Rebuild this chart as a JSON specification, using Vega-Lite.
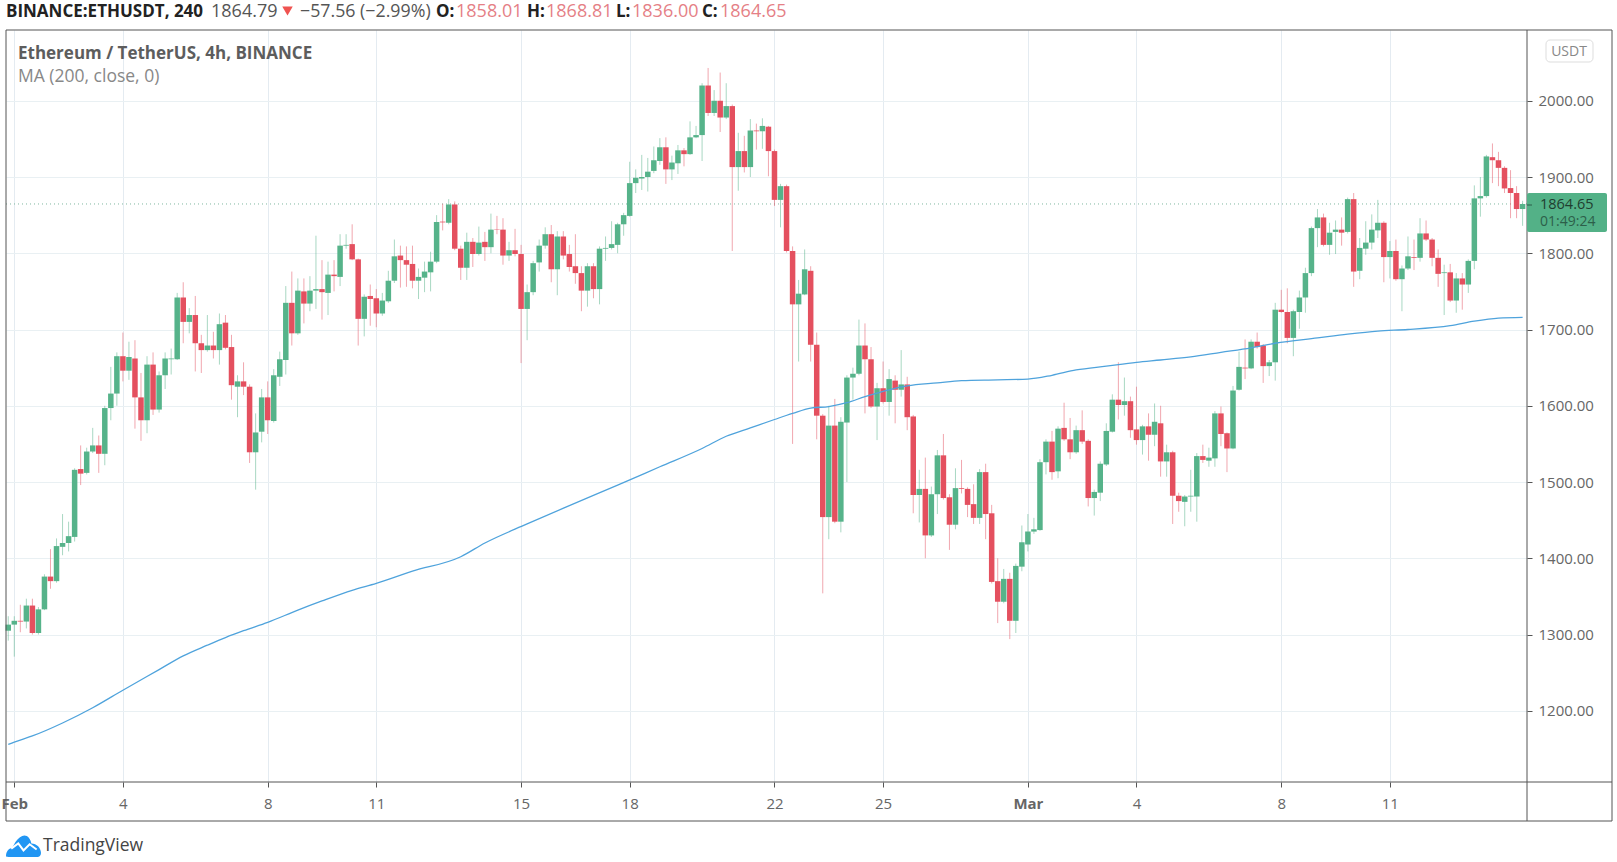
{
"$schema":"https://vega.github.io/schema/vega-lite/v6.json",
"width":1521,"height":752,
"autosize":"none",
"padding":{"left":6,"top":30,"right":90,"bottom":80},
"background":"white",
"config":{"view":{"stroke":null},"font":"Open Sans","text":{"font":"Open Sans"}},
"datasets":{
"candles":[
{"t":"2021-01-31T20:00Z","o":1305,"h":1324,"l":1292,"c":1313},
{"t":"2021-02-01T00:00Z","o":1313,"h":1324,"l":1271,"c":1318},
{"t":"2021-02-01T04:00Z","o":1318,"h":1339,"l":1303,"c":1317},
{"t":"2021-02-01T08:00Z","o":1317,"h":1347,"l":1308,"c":1338},
{"t":"2021-02-01T12:00Z","o":1338,"h":1347,"l":1300,"c":1302},
{"t":"2021-02-01T16:00Z","o":1302,"h":1336,"l":1300,"c":1333},
{"t":"2021-02-01T20:00Z","o":1333,"h":1379,"l":1332,"c":1376},
{"t":"2021-02-02T00:00Z","o":1376,"h":1412,"l":1360,"c":1370},
{"t":"2021-02-02T04:00Z","o":1370,"h":1426,"l":1368,"c":1416},
{"t":"2021-02-02T08:00Z","o":1415,"h":1458,"l":1404,"c":1420},
{"t":"2021-02-02T12:00Z","o":1420,"h":1448,"l":1409,"c":1429},
{"t":"2021-02-02T16:00Z","o":1428,"h":1518,"l":1422,"c":1516},
{"t":"2021-02-02T20:00Z","o":1517,"h":1548,"l":1496,"c":1511},
{"t":"2021-02-03T00:00Z","o":1512,"h":1545,"l":1510,"c":1540},
{"t":"2021-02-03T04:00Z","o":1540,"h":1571,"l":1538,"c":1548},
{"t":"2021-02-03T08:00Z","o":1548,"h":1561,"l":1512,"c":1537},
{"t":"2021-02-03T12:00Z","o":1537,"h":1600,"l":1522,"c":1597},
{"t":"2021-02-03T16:00Z","o":1597,"h":1651,"l":1581,"c":1616},
{"t":"2021-02-03T20:00Z","o":1616,"h":1670,"l":1600,"c":1665},
{"t":"2021-02-04T00:00Z","o":1665,"h":1696,"l":1632,"c":1646},
{"t":"2021-02-04T04:00Z","o":1646,"h":1684,"l":1634,"c":1664},
{"t":"2021-02-04T08:00Z","o":1662,"h":1686,"l":1570,"c":1611},
{"t":"2021-02-04T12:00Z","o":1611,"h":1643,"l":1554,"c":1581},
{"t":"2021-02-04T16:00Z","o":1581,"h":1665,"l":1564,"c":1654},
{"t":"2021-02-04T20:00Z","o":1654,"h":1670,"l":1588,"c":1595},
{"t":"2021-02-05T00:00Z","o":1595,"h":1645,"l":1591,"c":1640},
{"t":"2021-02-05T04:00Z","o":1640,"h":1670,"l":1622,"c":1662},
{"t":"2021-02-05T08:00Z","o":1661,"h":1675,"l":1641,"c":1662},
{"t":"2021-02-05T12:00Z","o":1661,"h":1748,"l":1660,"c":1742},
{"t":"2021-02-05T16:00Z","o":1742,"h":1762,"l":1682,"c":1710},
{"t":"2021-02-05T20:00Z","o":1710,"h":1728,"l":1695,"c":1719},
{"t":"2021-02-06T00:00Z","o":1719,"h":1744,"l":1645,"c":1682},
{"t":"2021-02-06T04:00Z","o":1682,"h":1693,"l":1643,"c":1673},
{"t":"2021-02-06T08:00Z","o":1673,"h":1719,"l":1671,"c":1679},
{"t":"2021-02-06T12:00Z","o":1679,"h":1697,"l":1662,"c":1673},
{"t":"2021-02-06T16:00Z","o":1673,"h":1721,"l":1654,"c":1707},
{"t":"2021-02-06T20:00Z","o":1709,"h":1719,"l":1674,"c":1676},
{"t":"2021-02-07T00:00Z","o":1677,"h":1693,"l":1608,"c":1627},
{"t":"2021-02-07T04:00Z","o":1625,"h":1640,"l":1585,"c":1632},
{"t":"2021-02-07T08:00Z","o":1632,"h":1657,"l":1614,"c":1625},
{"t":"2021-02-07T12:00Z","o":1625,"h":1628,"l":1525,"c":1539},
{"t":"2021-02-07T16:00Z","o":1539,"h":1590,"l":1490,"c":1565},
{"t":"2021-02-07T20:00Z","o":1566,"h":1622,"l":1552,"c":1611},
{"t":"2021-02-08T00:00Z","o":1611,"h":1632,"l":1563,"c":1581},
{"t":"2021-02-08T04:00Z","o":1580,"h":1648,"l":1578,"c":1640},
{"t":"2021-02-08T08:00Z","o":1638,"h":1671,"l":1626,"c":1661},
{"t":"2021-02-08T12:00Z","o":1660,"h":1757,"l":1641,"c":1735},
{"t":"2021-02-08T16:00Z","o":1735,"h":1776,"l":1679,"c":1695},
{"t":"2021-02-08T20:00Z","o":1695,"h":1767,"l":1693,"c":1751},
{"t":"2021-02-09T00:00Z","o":1750,"h":1767,"l":1708,"c":1734},
{"t":"2021-02-09T04:00Z","o":1734,"h":1770,"l":1724,"c":1751},
{"t":"2021-02-09T08:00Z","o":1751,"h":1823,"l":1727,"c":1753},
{"t":"2021-02-09T12:00Z","o":1753,"h":1791,"l":1713,"c":1749},
{"t":"2021-02-09T16:00Z","o":1748,"h":1789,"l":1719,"c":1772},
{"t":"2021-02-09T20:00Z","o":1772,"h":1791,"l":1750,"c":1770},
{"t":"2021-02-10T00:00Z","o":1769,"h":1825,"l":1757,"c":1810},
{"t":"2021-02-10T04:00Z","o":1810,"h":1825,"l":1806,"c":1811},
{"t":"2021-02-10T08:00Z","o":1812,"h":1838,"l":1791,"c":1792},
{"t":"2021-02-10T12:00Z","o":1792,"h":1793,"l":1679,"c":1714},
{"t":"2021-02-10T16:00Z","o":1714,"h":1746,"l":1691,"c":1743},
{"t":"2021-02-10T20:00Z","o":1744,"h":1759,"l":1705,"c":1740},
{"t":"2021-02-11T00:00Z","o":1741,"h":1753,"l":1703,"c":1721},
{"t":"2021-02-11T04:00Z","o":1721,"h":1748,"l":1718,"c":1738},
{"t":"2021-02-11T08:00Z","o":1737,"h":1777,"l":1735,"c":1764},
{"t":"2021-02-11T12:00Z","o":1764,"h":1818,"l":1761,"c":1796},
{"t":"2021-02-11T16:00Z","o":1797,"h":1810,"l":1755,"c":1791},
{"t":"2021-02-11T20:00Z","o":1791,"h":1809,"l":1756,"c":1785},
{"t":"2021-02-12T00:00Z","o":1786,"h":1810,"l":1754,"c":1764},
{"t":"2021-02-12T04:00Z","o":1764,"h":1780,"l":1740,"c":1769},
{"t":"2021-02-12T08:00Z","o":1768,"h":1789,"l":1749,"c":1776},
{"t":"2021-02-12T12:00Z","o":1775,"h":1802,"l":1750,"c":1789},
{"t":"2021-02-12T16:00Z","o":1789,"h":1850,"l":1787,"c":1841},
{"t":"2021-02-12T20:00Z","o":1841.5,"h":1865,"l":1830,"c":1840.5},
{"t":"2021-02-13T00:00Z","o":1840,"h":1871,"l":1838,"c":1864},
{"t":"2021-02-13T04:00Z","o":1864,"h":1868,"l":1804,"c":1806},
{"t":"2021-02-13T08:00Z","o":1806,"h":1810,"l":1765,"c":1781},
{"t":"2021-02-13T12:00Z","o":1781,"h":1827,"l":1765,"c":1815},
{"t":"2021-02-13T16:00Z","o":1815,"h":1820,"l":1782,"c":1799},
{"t":"2021-02-13T20:00Z","o":1799,"h":1835,"l":1797,"c":1814},
{"t":"2021-02-14T00:00Z","o":1815,"h":1828,"l":1790,"c":1808},
{"t":"2021-02-14T04:00Z","o":1808,"h":1852,"l":1800,"c":1831},
{"t":"2021-02-14T08:00Z","o":1831.5,"h":1849,"l":1825,"c":1831},
{"t":"2021-02-14T12:00Z","o":1831,"h":1846,"l":1785,"c":1797},
{"t":"2021-02-14T16:00Z","o":1797,"h":1815,"l":1790,"c":1804},
{"t":"2021-02-14T20:00Z","o":1804,"h":1832,"l":1796,"c":1799},
{"t":"2021-02-15T00:00Z","o":1799,"h":1811,"l":1656,"c":1727},
{"t":"2021-02-15T04:00Z","o":1727,"h":1759,"l":1686,"c":1749},
{"t":"2021-02-15T08:00Z","o":1749,"h":1790,"l":1745,"c":1787},
{"t":"2021-02-15T12:00Z","o":1788,"h":1818,"l":1776,"c":1810},
{"t":"2021-02-15T16:00Z","o":1810,"h":1834,"l":1806,"c":1825},
{"t":"2021-02-15T20:00Z","o":1825,"h":1837,"l":1762,"c":1779},
{"t":"2021-02-16T00:00Z","o":1779,"h":1829,"l":1745,"c":1822},
{"t":"2021-02-16T04:00Z","o":1822,"h":1829,"l":1792,"c":1797},
{"t":"2021-02-16T08:00Z","o":1799,"h":1811,"l":1776,"c":1782},
{"t":"2021-02-16T12:00Z","o":1783,"h":1825,"l":1760,"c":1774},
{"t":"2021-02-16T16:00Z","o":1774,"h":1783,"l":1724,"c":1751},
{"t":"2021-02-16T20:00Z","o":1751,"h":1787,"l":1730,"c":1783},
{"t":"2021-02-17T00:00Z","o":1783,"h":1787,"l":1741,"c":1753},
{"t":"2021-02-17T04:00Z","o":1753,"h":1809,"l":1733,"c":1806},
{"t":"2021-02-17T08:00Z","o":1806,"h":1822,"l":1790,"c":1807},
{"t":"2021-02-17T12:00Z","o":1807,"h":1842,"l":1805,"c":1812},
{"t":"2021-02-17T16:00Z","o":1811,"h":1840,"l":1800,"c":1838},
{"t":"2021-02-17T20:00Z","o":1838,"h":1853,"l":1823,"c":1850},
{"t":"2021-02-18T00:00Z","o":1849,"h":1920,"l":1848,"c":1892},
{"t":"2021-02-18T04:00Z","o":1892,"h":1910,"l":1879,"c":1899},
{"t":"2021-02-18T08:00Z","o":1898,"h":1929,"l":1883,"c":1900},
{"t":"2021-02-18T12:00Z","o":1900,"h":1925,"l":1881,"c":1907},
{"t":"2021-02-18T16:00Z","o":1908,"h":1940,"l":1905,"c":1922},
{"t":"2021-02-18T20:00Z","o":1921,"h":1951,"l":1916,"c":1939},
{"t":"2021-02-19T00:00Z","o":1939,"h":1952,"l":1891,"c":1910},
{"t":"2021-02-19T04:00Z","o":1910,"h":1928,"l":1896,"c":1919},
{"t":"2021-02-19T08:00Z","o":1918,"h":1942,"l":1904,"c":1935},
{"t":"2021-02-19T12:00Z","o":1935,"h":1938,"l":1914,"c":1930},
{"t":"2021-02-19T16:00Z","o":1930,"h":1973,"l":1929,"c":1952},
{"t":"2021-02-19T20:00Z","o":1952,"h":1967,"l":1951,"c":1955},
{"t":"2021-02-20T00:00Z","o":1955,"h":2023,"l":1921,"c":2020},
{"t":"2021-02-20T04:00Z","o":2020,"h":2043,"l":1980,"c":1984},
{"t":"2021-02-20T08:00Z","o":1984,"h":2014,"l":1980,"c":2000},
{"t":"2021-02-20T12:00Z","o":2000,"h":2037,"l":1959,"c":1978},
{"t":"2021-02-20T16:00Z","o":1978,"h":2023,"l":1976,"c":1993},
{"t":"2021-02-20T20:00Z","o":1993,"h":1995,"l":1803,"c":1913},
{"t":"2021-02-21T00:00Z","o":1913,"h":1958,"l":1882,"c":1934},
{"t":"2021-02-21T04:00Z","o":1934,"h":1954,"l":1906,"c":1913},
{"t":"2021-02-21T08:00Z","o":1913,"h":1976,"l":1900,"c":1961},
{"t":"2021-02-21T12:00Z","o":1961,"h":1970,"l":1936,"c":1960},
{"t":"2021-02-21T16:00Z","o":1960,"h":1977,"l":1937,"c":1967},
{"t":"2021-02-21T20:00Z","o":1966,"h":1967,"l":1901,"c":1934},
{"t":"2021-02-22T00:00Z","o":1934,"h":1936,"l":1862,"c":1870},
{"t":"2021-02-22T04:00Z","o":1870,"h":1891,"l":1834,"c":1888},
{"t":"2021-02-22T08:00Z","o":1888,"h":1890,"l":1801,"c":1803},
{"t":"2021-02-22T12:00Z","o":1803,"h":1809,"l":1550,"c":1733},
{"t":"2021-02-22T16:00Z","o":1733,"h":1765,"l":1658,"c":1747},
{"t":"2021-02-22T20:00Z","o":1746,"h":1805,"l":1745,"c":1779},
{"t":"2021-02-23T00:00Z","o":1777,"h":1783,"l":1658,"c":1680},
{"t":"2021-02-23T04:00Z","o":1680,"h":1696,"l":1556,"c":1587},
{"t":"2021-02-23T08:00Z","o":1587,"h":1589,"l":1354,"c":1454},
{"t":"2021-02-23T12:00Z","o":1454,"h":1600,"l":1425,"c":1574},
{"t":"2021-02-23T16:00Z","o":1574,"h":1609,"l":1446,"c":1448},
{"t":"2021-02-23T20:00Z","o":1448,"h":1585,"l":1434,"c":1579},
{"t":"2021-02-24T00:00Z","o":1578,"h":1640,"l":1500,"c":1637},
{"t":"2021-02-24T04:00Z","o":1637,"h":1650,"l":1608,"c":1642},
{"t":"2021-02-24T08:00Z","o":1642,"h":1713,"l":1640,"c":1679},
{"t":"2021-02-24T12:00Z","o":1679,"h":1708,"l":1590,"c":1661},
{"t":"2021-02-24T16:00Z","o":1661,"h":1677,"l":1597,"c":1599},
{"t":"2021-02-24T20:00Z","o":1599,"h":1630,"l":1555,"c":1623},
{"t":"2021-02-25T00:00Z","o":1623,"h":1658,"l":1603,"c":1605},
{"t":"2021-02-25T04:00Z","o":1605,"h":1648,"l":1587,"c":1635},
{"t":"2021-02-25T08:00Z","o":1633,"h":1640,"l":1577,"c":1621},
{"t":"2021-02-25T12:00Z","o":1621,"h":1673,"l":1612,"c":1628},
{"t":"2021-02-25T16:00Z","o":1628,"h":1638,"l":1568,"c":1585},
{"t":"2021-02-25T20:00Z","o":1586,"h":1588,"l":1459,"c":1483},
{"t":"2021-02-26T00:00Z","o":1483,"h":1516,"l":1447,"c":1491},
{"t":"2021-02-26T04:00Z","o":1491,"h":1532,"l":1400,"c":1430},
{"t":"2021-02-26T08:00Z","o":1430,"h":1494,"l":1428,"c":1484},
{"t":"2021-02-26T12:00Z","o":1484,"h":1542,"l":1458,"c":1535},
{"t":"2021-02-26T16:00Z","o":1535,"h":1563,"l":1477,"c":1479},
{"t":"2021-02-26T20:00Z","o":1480,"h":1484,"l":1411,"c":1444},
{"t":"2021-02-27T00:00Z","o":1444,"h":1518,"l":1438,"c":1492},
{"t":"2021-02-27T04:00Z","o":1492,"h":1529,"l":1485,"c":1491},
{"t":"2021-02-27T08:00Z","o":1491,"h":1493,"l":1454,"c":1470},
{"t":"2021-02-27T12:00Z","o":1471,"h":1497,"l":1445,"c":1453},
{"t":"2021-02-27T16:00Z","o":1453,"h":1517,"l":1445,"c":1513},
{"t":"2021-02-27T20:00Z","o":1513,"h":1524,"l":1425,"c":1458},
{"t":"2021-02-28T00:00Z","o":1459,"h":1470,"l":1367,"c":1369},
{"t":"2021-02-28T04:00Z","o":1370,"h":1400,"l":1315,"c":1343},
{"t":"2021-02-28T08:00Z","o":1343,"h":1386,"l":1341,"c":1373},
{"t":"2021-02-28T12:00Z","o":1373,"h":1381,"l":1294,"c":1318},
{"t":"2021-02-28T16:00Z","o":1318,"h":1393,"l":1302,"c":1390},
{"t":"2021-02-28T20:00Z","o":1389,"h":1443,"l":1383,"c":1421},
{"t":"2021-03-01T00:00Z","o":1418,"h":1458,"l":1409,"c":1435},
{"t":"2021-03-01T04:00Z","o":1435,"h":1453,"l":1432,"c":1438},
{"t":"2021-03-01T08:00Z","o":1437,"h":1530,"l":1436,"c":1526},
{"t":"2021-03-01T12:00Z","o":1526,"h":1556,"l":1510,"c":1553},
{"t":"2021-03-01T16:00Z","o":1553,"h":1567,"l":1503,"c":1513},
{"t":"2021-03-01T20:00Z","o":1514,"h":1573,"l":1505,"c":1570},
{"t":"2021-03-02T00:00Z","o":1571,"h":1604,"l":1554,"c":1556},
{"t":"2021-03-02T04:00Z","o":1556,"h":1584,"l":1530,"c":1539},
{"t":"2021-03-02T08:00Z","o":1539,"h":1574,"l":1537,"c":1568},
{"t":"2021-03-02T12:00Z","o":1568,"h":1594,"l":1550,"c":1553},
{"t":"2021-03-02T16:00Z","o":1554,"h":1556,"l":1468,"c":1479},
{"t":"2021-03-02T20:00Z","o":1479,"h":1490,"l":1456,"c":1487},
{"t":"2021-03-03T00:00Z","o":1486,"h":1527,"l":1475,"c":1524},
{"t":"2021-03-03T04:00Z","o":1523,"h":1577,"l":1521,"c":1567},
{"t":"2021-03-03T08:00Z","o":1566,"h":1615,"l":1565,"c":1608},
{"t":"2021-03-03T12:00Z","o":1608,"h":1657,"l":1582,"c":1601},
{"t":"2021-03-03T16:00Z","o":1601,"h":1637,"l":1587,"c":1606},
{"t":"2021-03-03T20:00Z","o":1606,"h":1612,"l":1558,"c":1568},
{"t":"2021-03-04T00:00Z","o":1569,"h":1625,"l":1549,"c":1555},
{"t":"2021-03-04T04:00Z","o":1555,"h":1575,"l":1536,"c":1573},
{"t":"2021-03-04T08:00Z","o":1573,"h":1590,"l":1528,"c":1562},
{"t":"2021-03-04T12:00Z","o":1562,"h":1603,"l":1547,"c":1579},
{"t":"2021-03-04T16:00Z","o":1577,"h":1600,"l":1507,"c":1527},
{"t":"2021-03-04T20:00Z","o":1527,"h":1549,"l":1507,"c":1539},
{"t":"2021-03-05T00:00Z","o":1539,"h":1541,"l":1445,"c":1482},
{"t":"2021-03-05T04:00Z","o":1482,"h":1486,"l":1461,"c":1475},
{"t":"2021-03-05T08:00Z","o":1474,"h":1483,"l":1442,"c":1481},
{"t":"2021-03-05T12:00Z","o":1481,"h":1516,"l":1461,"c":1482},
{"t":"2021-03-05T16:00Z","o":1481,"h":1538,"l":1448,"c":1534},
{"t":"2021-03-05T20:00Z","o":1534,"h":1549,"l":1525,"c":1529},
{"t":"2021-03-06T00:00Z","o":1528,"h":1545,"l":1520,"c":1532},
{"t":"2021-03-06T04:00Z","o":1531,"h":1593,"l":1520,"c":1590},
{"t":"2021-03-06T08:00Z","o":1590,"h":1599,"l":1547,"c":1563},
{"t":"2021-03-06T12:00Z","o":1564,"h":1565,"l":1513,"c":1544},
{"t":"2021-03-06T16:00Z","o":1544,"h":1626,"l":1543,"c":1620},
{"t":"2021-03-06T20:00Z","o":1621,"h":1671,"l":1620,"c":1651},
{"t":"2021-03-07T00:00Z","o":1650,"h":1687,"l":1635,"c":1649},
{"t":"2021-03-07T04:00Z","o":1649,"h":1687,"l":1648,"c":1684},
{"t":"2021-03-07T08:00Z","o":1684,"h":1696,"l":1675,"c":1677},
{"t":"2021-03-07T12:00Z","o":1679,"h":1681,"l":1630,"c":1652},
{"t":"2021-03-07T16:00Z","o":1652,"h":1660,"l":1639,"c":1657},
{"t":"2021-03-07T20:00Z","o":1657,"h":1735,"l":1633,"c":1726},
{"t":"2021-03-08T00:00Z","o":1726,"h":1752,"l":1722,"c":1723},
{"t":"2021-03-08T04:00Z","o":1723,"h":1754,"l":1682,"c":1689},
{"t":"2021-03-08T08:00Z","o":1689,"h":1726,"l":1665,"c":1724},
{"t":"2021-03-08T12:00Z","o":1723,"h":1751,"l":1701,"c":1742},
{"t":"2021-03-08T16:00Z","o":1742,"h":1781,"l":1722,"c":1774},
{"t":"2021-03-08T20:00Z","o":1774,"h":1835,"l":1770,"c":1833},
{"t":"2021-03-09T00:00Z","o":1833,"h":1858,"l":1808,"c":1847},
{"t":"2021-03-09T04:00Z","o":1847,"h":1852,"l":1809,"c":1811},
{"t":"2021-03-09T08:00Z","o":1811,"h":1840,"l":1798,"c":1827},
{"t":"2021-03-09T12:00Z","o":1828,"h":1843,"l":1799,"c":1831},
{"t":"2021-03-09T16:00Z","o":1831,"h":1847,"l":1810,"c":1827},
{"t":"2021-03-09T20:00Z","o":1828,"h":1873,"l":1826,"c":1871},
{"t":"2021-03-10T00:00Z","o":1871,"h":1879,"l":1756,"c":1776},
{"t":"2021-03-10T04:00Z","o":1777,"h":1820,"l":1766,"c":1807},
{"t":"2021-03-10T08:00Z","o":1806,"h":1842,"l":1798,"c":1814},
{"t":"2021-03-10T12:00Z","o":1814,"h":1851,"l":1805,"c":1831},
{"t":"2021-03-10T16:00Z","o":1830,"h":1870,"l":1820,"c":1840},
{"t":"2021-03-10T20:00Z","o":1840,"h":1842,"l":1762,"c":1795},
{"t":"2021-03-11T00:00Z","o":1795,"h":1816,"l":1767,"c":1803},
{"t":"2021-03-11T04:00Z","o":1803,"h":1818,"l":1764,"c":1766},
{"t":"2021-03-11T08:00Z","o":1766,"h":1784,"l":1724,"c":1780},
{"t":"2021-03-11T12:00Z","o":1780,"h":1822,"l":1778,"c":1796},
{"t":"2021-03-11T16:00Z","o":1795,"h":1818,"l":1778,"c":1794},
{"t":"2021-03-11T20:00Z","o":1794,"h":1846,"l":1789,"c":1826},
{"t":"2021-03-12T00:00Z","o":1826,"h":1843,"l":1816,"c":1818},
{"t":"2021-03-12T04:00Z","o":1818,"h":1820,"l":1783,"c":1794},
{"t":"2021-03-12T08:00Z","o":1794,"h":1805,"l":1756,"c":1773},
{"t":"2021-03-12T12:00Z","o":1774,"h":1785,"l":1719,"c":1775},
{"t":"2021-03-12T16:00Z","o":1775,"h":1786,"l":1736,"c":1738},
{"t":"2021-03-12T20:00Z","o":1738,"h":1774,"l":1722,"c":1767},
{"t":"2021-03-13T00:00Z","o":1767,"h":1774,"l":1726,"c":1759},
{"t":"2021-03-13T04:00Z","o":1759,"h":1792,"l":1748,"c":1790},
{"t":"2021-03-13T08:00Z","o":1790,"h":1889,"l":1779,"c":1872},
{"t":"2021-03-13T12:00Z","o":1872,"h":1900,"l":1848,"c":1875},
{"t":"2021-03-13T16:00Z","o":1875,"h":1929,"l":1873,"c":1927},
{"t":"2021-03-13T20:00Z","o":1926,"h":1944,"l":1892,"c":1922},
{"t":"2021-03-14T00:00Z","o":1922,"h":1933,"l":1888,"c":1912},
{"t":"2021-03-14T04:00Z","o":1912,"h":1914,"l":1879,"c":1885},
{"t":"2021-03-14T08:00Z","o":1885.5,"h":1909,"l":1846,"c":1879},
{"t":"2021-03-14T12:00Z","o":1879,"h":1888,"l":1846,"c":1858},
{"t":"2021-03-14T16:00Z","o":1858.01,"h":1868.81,"l":1836,"c":1864.65}
],
"ma":[
{"t":"2021-01-31T20:00Z","v":1156},{"t":"2021-02-01T00:00Z","v":1159},{"t":"2021-02-01T12:00Z","v":1167},
{"t":"2021-02-02T08:00Z","v":1184},{"t":"2021-02-03T04:00Z","v":1204},{"t":"2021-02-04T00:00Z","v":1227},
{"t":"2021-02-05T00:00Z","v":1254},{"t":"2021-02-05T16:00Z","v":1272},{"t":"2021-02-06T08:00Z","v":1286},
{"t":"2021-02-06T20:00Z","v":1296},{"t":"2021-02-07T08:00Z","v":1305},{"t":"2021-02-08T00:00Z","v":1316},
{"t":"2021-02-08T20:00Z","v":1332},{"t":"2021-02-09T12:00Z","v":1344},{"t":"2021-02-10T08:00Z","v":1358},
{"t":"2021-02-11T00:00Z","v":1367},{"t":"2021-02-12T00:00Z","v":1383},{"t":"2021-02-13T08:00Z","v":1402},
{"t":"2021-02-14T00:00Z","v":1420},{"t":"2021-02-15T04:00Z","v":1445},{"t":"2021-02-16T08:00Z","v":1469},
{"t":"2021-02-17T16:00Z","v":1496},{"t":"2021-02-18T20:00Z","v":1520},{"t":"2021-02-20T00:00Z","v":1544},
{"t":"2021-02-20T16:00Z","v":1560},{"t":"2021-02-21T08:00Z","v":1571},{"t":"2021-02-22T00:00Z","v":1582},
{"t":"2021-02-22T12:00Z","v":1590},{"t":"2021-02-23T00:00Z","v":1597},{"t":"2021-02-23T12:00Z","v":1599},
{"t":"2021-02-24T00:00Z","v":1604},{"t":"2021-02-24T12:00Z","v":1612},{"t":"2021-02-25T04:00Z","v":1621},
{"t":"2021-02-25T16:00Z","v":1626},{"t":"2021-02-26T12:00Z","v":1630},{"t":"2021-02-27T04:00Z","v":1633},
{"t":"2021-02-28T04:00Z","v":1634},{"t":"2021-03-01T00:00Z","v":1635},{"t":"2021-03-01T16:00Z","v":1640},
{"t":"2021-03-02T08:00Z","v":1647},{"t":"2021-03-03T04:00Z","v":1652},{"t":"2021-03-04T00:00Z","v":1657},
{"t":"2021-03-04T16:00Z","v":1660},{"t":"2021-03-05T12:00Z","v":1664},{"t":"2021-03-06T08:00Z","v":1670},
{"t":"2021-03-07T04:00Z","v":1676},{"t":"2021-03-07T20:00Z","v":1682},{"t":"2021-03-09T00:00Z","v":1689},
{"t":"2021-03-09T20:00Z","v":1694},{"t":"2021-03-10T16:00Z","v":1698},{"t":"2021-03-11T12:00Z","v":1700},
{"t":"2021-03-12T16:00Z","v":1705},{"t":"2021-03-13T08:00Z","v":1711},{"t":"2021-03-14T00:00Z","v":1715},
{"t":"2021-03-14T16:00Z","v":1716}
],
"one":[{"k":1}]
},
"layer":[
{"data":{"name":"one"},
 "mark":{"type":"rule","stroke":"#7fb8a0","strokeDash":[1,3],"strokeWidth":1},
 "encoding":{"y":{"datum":1864.65,"type":"quantitative","scale":{"domain":[1106.6,2092.8],"nice":false,"zero":false}}}},
{"data":{"name":"candles"},
 "mark":{"type":"rule","strokeWidth":1,"opacity":0.5},
 "encoding":{
  "x":{"field":"t","type":"temporal","title":null,
   "scale":{"type":"utc","domain":[1612117800000,1615748083200],"padding":0},
   "axis":{"values":[1612137600000,1612396800000,1612742400000,1613001600000,1613347200000,1613606400000,1613952000000,1614211200000,1614556800000,1614816000000,1615161600000,1615420800000],
    "labelExpr":"utcdate(datum.value)==1 ? utcFormat(datum.value,'%b') : utcFormat(datum.value,'%-d')",
    "labelFontWeight":{"condition":{"test":"utcdate(datum.value)==1","value":"bold"},"value":"normal"},
    "labelFontSize":15,"labelColor":"#666","labelPadding":9,"labelOverlap":false,"labelFlush":false,"tickColor":"#555","tickSize":5,"domain":false,
    "grid":true,"gridColor":"#e4ebf1","gridWidth":1}},
  "y":{"field":"l","type":"quantitative","title":null,
   "scale":{"domain":[1106.6,2092.8],"nice":false,"zero":false},
   "axis":{"orient":"right","values":[1200,1300,1400,1500,1600,1700,1800,1900,2000],"format":".2f","labelFontSize":15,"labelColor":"#666","labelPadding":6,"tickColor":"#555","tickSize":5,"domain":false,
    "grid":true,"gridColor":"#e9f0f3","gridWidth":1}},
  "y2":{"field":"h"},
  "color":{"condition":{"test":"datum.c>=datum.o","value":"#53b187"},"value":"#e4505f"}}},
{"data":{"name":"candles"},
 "mark":{"type":"bar","size":5.5},
 "encoding":{
  "x":{"field":"t","type":"temporal"},
  "y":{"field":"o","type":"quantitative"},
  "y2":{"field":"c"},
  "color":{"condition":{"test":"datum.c>=datum.o","value":"#56b38a"},"value":"#e4505f"}}},
{"data":{"name":"ma"},
 "mark":{"type":"line","stroke":"#4fa3dc","strokeWidth":1.3,"interpolate":"monotone"},
 "encoding":{"x":{"field":"t","type":"temporal"},"y":{"field":"v","type":"quantitative"}}},
{"data":{"name":"one"},"mark":{"type":"rect","fill":null,"stroke":"#555","strokeWidth":1,"clip":false},"encoding":{"x":{"value":0},"x2":{"value":1606},"y":{"value":0},"y2":{"value":791}}},
{"data":{"name":"one"},"mark":{"type":"rule","stroke":"#555","strokeWidth":1,"clip":false},"encoding":{"x":{"value":0},"x2":{"value":1606},"y":{"value":752}}},
{"data":{"name":"one"},"mark":{"type":"rule","stroke":"#555","strokeWidth":1,"clip":false},"encoding":{"x":{"value":1521},"y":{"value":0},"y2":{"value":791}}},
{"data":{"name":"one"},"mark":{"type":"rect","fill":"white","stroke":"#ddd","strokeWidth":1,"cornerRadius":4},"encoding":{"x":{"value":1540},"x2":{"value":1587},"y":{"value":10},"y2":{"value":32}}},
{"data":{"name":"one"},"mark":{"type":"text","text":"USDT","align":"center","baseline":"middle","fontSize":14,"fill":"#888"},"encoding":{"x":{"value":1563},"y":{"value":21.5}}},
{"data":{"name":"one"},"mark":{"type":"rect","fill":"#53b187","cornerRadius":2},"encoding":{"x":{"value":1521},"x2":{"value":1601},"y":{"value":163},"y2":{"value":202}}},
{"data":{"name":"one"},"mark":{"type":"rule","stroke":"#2d5f4a","strokeWidth":1},"encoding":{"x":{"value":1521},"x2":{"value":1526},"y":{"value":175}}},
{"data":{"name":"one"},"mark":{"type":"text","text":"1864.65","align":"left","baseline":"middle","fontSize":14.5,"fill":"#1f3d30"},"encoding":{"x":{"value":1534},"y":{"value":175}}},
{"data":{"name":"one"},"mark":{"type":"text","text":"01:49:24","align":"left","baseline":"middle","fontSize":14,"fill":"#2d5f4a"},"encoding":{"x":{"value":1534},"y":{"value":192}}},
{"data":{"name":"one"},"mark":{"type":"text","text":"BINANCE:ETHUSDT, 240","align":"left","baseline":"middle","fontSize":17,"fontWeight":"bold","fill":"#222"},"encoding":{"x":{"value":0},"y":{"value":-18}}},
{"data":{"name":"one"},"mark":{"type":"text","text":"1864.79","align":"left","baseline":"middle","fontSize":18,"fill":"#555"},"encoding":{"x":{"value":205},"y":{"value":-18}}},
{"data":{"name":"one"},"mark":{"type":"point","shape":"triangle-down","filled":true,"fill":"#ef5350","opacity":1,"size":110},"encoding":{"x":{"value":281.5},"y":{"value":-19}}},
{"data":{"name":"one"},"mark":{"type":"text","text":"−57.56 (−2.99%)","align":"left","baseline":"middle","fontSize":17.8,"fill":"#555"},"encoding":{"x":{"value":294},"y":{"value":-18}}},
{"data":{"name":"one"},"mark":{"type":"text","text":"O:","align":"left","baseline":"middle","fontSize":17,"fontWeight":"bold","fill":"#222"},"encoding":{"x":{"value":430},"y":{"value":-18}}},
{"data":{"name":"one"},"mark":{"type":"text","text":"1858.01","align":"left","baseline":"middle","fontSize":18,"fill":"#e57f86"},"encoding":{"x":{"value":450},"y":{"value":-18}}},
{"data":{"name":"one"},"mark":{"type":"text","text":"H:","align":"left","baseline":"middle","fontSize":17,"fontWeight":"bold","fill":"#222"},"encoding":{"x":{"value":521},"y":{"value":-18}}},
{"data":{"name":"one"},"mark":{"type":"text","text":"1868.81","align":"left","baseline":"middle","fontSize":18,"fill":"#e57f86"},"encoding":{"x":{"value":540},"y":{"value":-18}}},
{"data":{"name":"one"},"mark":{"type":"text","text":"L:","align":"left","baseline":"middle","fontSize":17,"fontWeight":"bold","fill":"#222"},"encoding":{"x":{"value":610},"y":{"value":-18}}},
{"data":{"name":"one"},"mark":{"type":"text","text":"1836.00","align":"left","baseline":"middle","fontSize":18,"fill":"#e57f86"},"encoding":{"x":{"value":626},"y":{"value":-18}}},
{"data":{"name":"one"},"mark":{"type":"text","text":"C:","align":"left","baseline":"middle","fontSize":17,"fontWeight":"bold","fill":"#222"},"encoding":{"x":{"value":696},"y":{"value":-18}}},
{"data":{"name":"one"},"mark":{"type":"text","text":"1864.65","align":"left","baseline":"middle","fontSize":18,"fill":"#e57f86"},"encoding":{"x":{"value":714},"y":{"value":-18}}},
{"data":{"name":"one"},"mark":{"type":"text","text":"Ethereum / TetherUS, 4h, BINANCE","align":"left","baseline":"middle","fontSize":17,"fontWeight":"bold","fill":"#5d5d5d"},"encoding":{"x":{"value":12},"y":{"value":23.5}}},
{"data":{"name":"one"},"mark":{"type":"text","text":"MA (200, close, 0)","align":"left","baseline":"middle","fontSize":17.5,"fill":"#888"},"encoding":{"x":{"value":12},"y":{"value":47}}},
{"data":{"name":"one"},"mark":{"type":"point","shape":"M-1,0.6 C-1,0.3 -0.85,0.15 -0.65,0.1 L-0.45,-0.25 C-0.3,-0.45 -0.1,-0.6 0.05,-0.6 C0.25,-0.6 0.4,-0.4 0.45,-0.15 C0.75,-0.15 1,0.1 1,0.4 C1,0.55 0.9,0.63 0.8,0.63 L-0.85,0.63 Z","filled":true,"fill":"#2196f3","opacity":1,"size":1225},"encoding":{"x":{"value":17.5},"y":{"value":816}}},
{"data":{"name":"one"},"mark":{"type":"point","shape":"M-0.7,0.15 L-0.3,-0.15 L0,0.25 L0.35,-0.1 L0.75,0.2","filled":false,"stroke":"white","strokeWidth":2,"opacity":1,"size":1225},"encoding":{"x":{"value":17.5},"y":{"value":816}}},
{"data":{"name":"one"},"mark":{"type":"text","text":"TradingView","align":"left","baseline":"middle","fontSize":17.5,"fill":"#444"},"encoding":{"x":{"value":37},"y":{"value":816}}}
]
}
